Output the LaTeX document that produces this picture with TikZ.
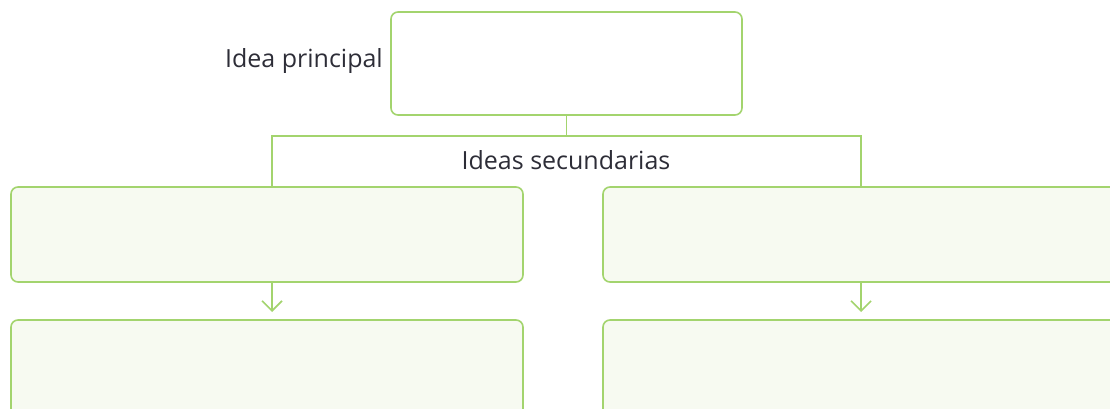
\documentclass[tikz,border=0pt]{standalone}
\usepackage{fontspec}
\setmainfont{Open Sans}
\usetikzlibrary{positioning}
\usetikzlibrary{arrows.meta}
\definecolor{leafgreen}{RGB}{163,212,110}
\definecolor{palegreen}{RGB}{247,250,241}
\definecolor{inkgray}{RGB}{45,45,55}

\begin{document}
\begin{tikzpicture}[x=1pt,y=-1pt,
    box/.style={draw=leafgreen, line width=1.6pt, rounded corners=7pt,
      inner sep=0pt, outer sep=0pt, anchor=north west},
    idea/.style={box, fill=palegreen, minimum width=512pt, minimum height=95pt},
    link/.style={draw=leafgreen, line width=1.6pt},
    txt/.style={font=\fontsize{25}{30}\selectfont, text=inkgray, inner sep=0pt}]
        \path[use as bounding box, clip] (0,0) rectangle (1110,409);
        \node[box, fill=white, minimum width=351pt, minimum height=103pt] (main) at (391,12) {};
        \node[txt, anchor=east] (mainlbl) at (383,61) {Idea principal};
        \node[idea] (leftup) at (11,187) {};
        \node[idea, minimum width=516pt] (rightup) at (603,187) {};
        \node[idea, minimum height=120pt] (leftdown) at (11,320) {};
        \node[idea, minimum width=516pt, minimum height=120pt] (rightdown) at (603,320) {};
        \node[txt] (second) at (566,160) {Ideas secundarias};
        \coordinate (fork) at (566.5,136);
        \coordinate (lstem) at (272,187);
        \coordinate (rstem) at (861,187);
        \draw[link] (main.south) -- (fork);
        \draw[link] (lstem) |- (fork) -| (rstem);
        \draw[link, -{Straight Barb[length=10pt,width=20pt]}, shorten >=8pt]
            (leftup.south -| lstem) -- (leftdown.north -| lstem);
        \draw[link, -{Straight Barb[length=10pt,width=20pt]}, shorten >=8pt]
            (rightup.south -| rstem) -- (rightdown.north -| rstem);
    \end{tikzpicture}
\end{document}
